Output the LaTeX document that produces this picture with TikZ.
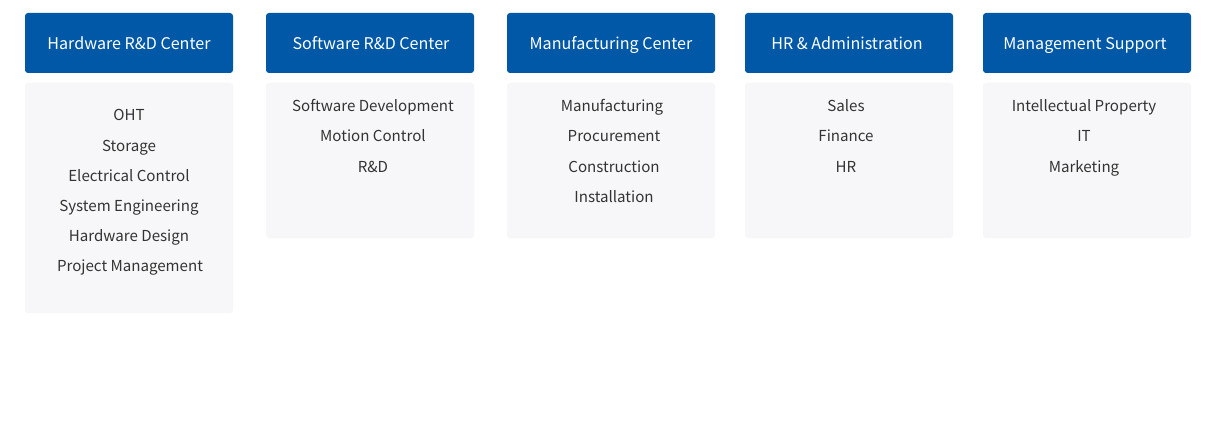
\documentclass[tikz,border=0pt]{standalone}
\usepackage{fontspec}
\setmainfont{Noto Sans CJK KR}
\definecolor{hdrblue}{HTML}{0058A6}
\definecolor{bodybg}{HTML}{F7F7F9}
\definecolor{bodytxt}{HTML}{333333}
\begin{document}
\begin{tikzpicture}[x=1pt,y=-1pt,
  hdr/.style={fill=hdrblue,draw=none,rounded corners=3pt},
  bodybox/.style={fill=bodybg,draw=none,rounded corners=3pt},
  hdrtxt/.style={text=white,font=\fontsize{16.1}{20}\selectfont,inner sep=0pt,anchor=base},
  item/.style={text=bodytxt,font=\fontsize{15.1}{19}\selectfont,inner sep=0pt,anchor=base}]
\path[fill=white] (0,0) rectangle (1215,425);
\useasboundingbox (0,0) rectangle (1215,425);
% column 1
\path[hdr] (25,13) rectangle (233,73);
\node[hdrtxt] (h1) at (129,50) {Hardware R\&D Center};
\path[bodybox] (25,83) rectangle (233,313);
\node[item] (a1) at (129,121) {OHT};
\node[item] (a2) at (129,151) {Storage};
\node[item] (a3) at (129,181) {Electrical Control};
\node[item] (a4) at (129,211) {System Engineering};
\node[item] (a5) at (129,241) {Hardware Design};
\node[item] (a6) at (130,271) {Project Management};
% column 2
\path[hdr] (266,13) rectangle (474,73);
\node[hdrtxt] (h2) at (371,50) {Software R\&D Center};
\path[bodybox] (266,83) rectangle (474,238);
\node[item] (b1) at (373,112) {Software Development};
\node[item] (b2) at (373,142) {Motion Control};
\node[item] (b3) at (373,172) {R\&D};
% column 3
\path[hdr] (507,13) rectangle (715,73);
\node[hdrtxt] (h3) at (611,50) {Manufacturing Center};
\path[bodybox] (507,83) rectangle (715,238);
\node[item] (c1) at (612,112) {Manufacturing};
\node[item] (c2) at (614,142) {Procurement};
\node[item] (c3) at (614,172) {Construction};
\node[item] (c4) at (614,202) {Installation};
% column 4
\path[hdr] (745,13) rectangle (953,73);
\node[hdrtxt] (h4) at (847,50) {HR \& Administration};
\path[bodybox] (745,83) rectangle (953,238);
\node[item] (d1) at (846,112) {Sales};
\node[item] (d2) at (846,142) {Finance};
\node[item] (d3) at (846,172) {HR};
% column 5
\path[hdr] (983,13) rectangle (1191,73);
\node[hdrtxt] (h5) at (1085,50) {Management Support};
\path[bodybox] (983,83) rectangle (1191,238);
\node[item] (e1) at (1084,112) {Intellectual Property};
\node[item] (e2) at (1084,142) {IT};
\node[item] (e3) at (1084,172) {Marketing};
\end{tikzpicture}
\end{document}
